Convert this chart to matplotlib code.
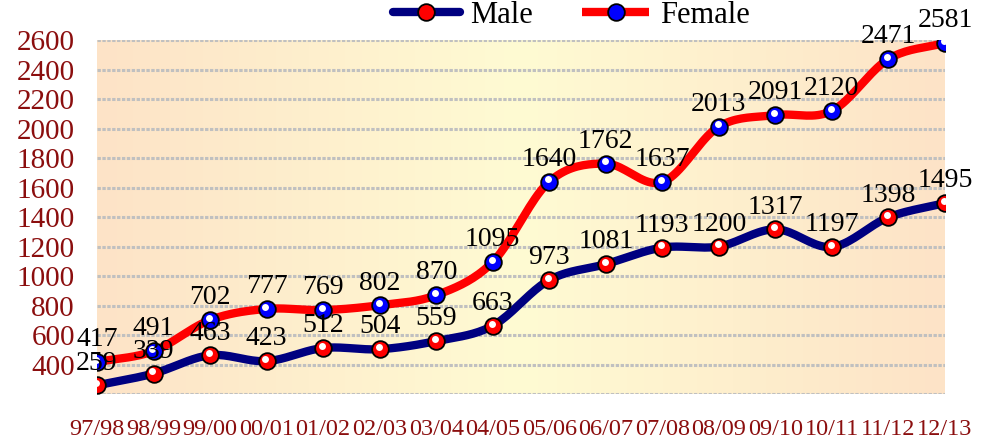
#Importing modules
import numpy as np
import matplotlib
matplotlib.use('Agg')
import matplotlib.pyplot as plt
import matplotlib.transforms as mtransforms
from matplotlib.lines import Line2D
from matplotlib.colors import LinearSegmentedColormap

#Defining plot params
plt.rcParams['font.family'] = ['Liberation Serif', 'DejaVu Serif']
fnt = 20
red_txt = '#8B0E0E'

#Chart data
years = ['97/98', '98/99', '99/00', '00/01', '01/02', '02/03', '03/04', '04/05',
         '05/06', '06/07', '07/08', '08/09', '09/10', '10/11', '11/12', '12/13']
male = [259, 339, 463, 423, 512, 504, 559, 663, 973, 1081, 1193, 1200, 1317, 1197, 1398, 1495]
female = [417, 491, 702, 777, 769, 802, 870, 1095, 1640, 1762, 1637, 2013, 2091, 2120, 2471, 2581]
yticks = [400, 600, 800, 1000, 1200, 1400, 1600, 1800, 2000, 2200, 2400, 2600]


def smooth(y, steps=20):
    #Catmull-Rom curve through the points, only used to draw the line
    y = np.asarray(y, dtype=float)
    p = np.concatenate([[2*y[0]-y[1]], y, [2*y[-1]-y[-2]]])
    xs, ys = [], []
    for i in range(len(y)-1):
        t = np.linspace(0, 1, steps, endpoint=False)
        p0, p1, p2, p3 = p[i], p[i+1], p[i+2], p[i+3]
        v = 0.5*((2*p1) + (-p0+p2)*t + (2*p0-5*p1+4*p2-p3)*t**2 + (-p0+3*p1-3*p2+p3)*t**3)
        xs.append(i+t)
        ys.append(v)
    xs.append([len(y)-1])
    ys.append([y[-1]])
    return np.concatenate(xs), np.concatenate(ys)


xpos = np.arange(len(years))

fig = plt.figure(figsize=(9.9, 4.4), dpi=100)
ax = fig.add_axes([0.098, 0.1045, 0.8565, 0.8045])
ax.set_xlim(0, len(years)-1)
ax.set_ylim(200, 2600)

#Background gradient: peach at the edges, pale yellow in the middle
cmap = LinearSegmentedColormap.from_list('bg', ['#FDE3C7', '#FFFBD3', '#FDE3C7'])
grad = np.linspace(0, 1, 256).reshape(1, -1)
ax.imshow(grad, cmap=cmap, aspect='auto', extent=[0, len(years)-1, 200, 2600], zorder=0)

for v in [200] + yticks:
    ax.axhline(v, color='#C0C0C0', lw=2.2, linestyle=(0, (1.1, 0.5)), dash_capstyle='butt', zorder=1)

for s in ax.spines.values():
    s.set_visible(False)

ax.set_yticks(yticks)
ax.set_yticklabels([str(v) for v in yticks], fontsize=fnt+1, color=red_txt)
ax.set_xticks(xpos)
ax.set_xticklabels(years, fontsize=17.5, color=red_txt)
ax.tick_params(axis='y', length=0, pad=16)
ax.tick_params(axis='x', length=0, pad=18)

hl = mtransforms.offset_copy(ax.transData, fig=fig, x=-0.8, y=1.6, units='points')

series = [(male, '#000080', '#FF0000', 'round'), (female, '#FF0000', '#0000FF', 'butt')]
for data, lc, mc, cap in series:
    sx, sy = smooth(data)
    ax.plot(sx, sy, color=lc, lw=6, solid_capstyle=cap, zorder=3)
    ax.plot(xpos, data, 'o', ms=12, mfc=mc, mec='black', mew=1.3, zorder=4)
    ax.plot(xpos, data, 'o', ms=5, mfc='white', mec='none', zorder=5, transform=hl)
    for i, v in enumerate(data):
        ax.annotate(str(v), (xpos[i], v), xytext=(0, 7), textcoords='offset points',
                    ha='center', va='bottom', fontsize=fnt, color='black', zorder=6,
                    annotation_clip=False)

handles = [Line2D([0], [0], color='#000080', lw=6, solid_capstyle='round', marker='o', ms=12,
                  mfc='#FF0000', mec='black', mew=1.3),
           Line2D([0], [0], color='#FF0000', lw=6, solid_capstyle='butt', marker='o', ms=12,
                  mfc='#0000FF', mec='black', mew=1.3)]
fig.legend(handles, ['Male', 'Female'], loc='center', bbox_to_anchor=(0.577, 0.965), ncol=2,
           frameon=False, fontsize=fnt+2, handlelength=2.2, columnspacing=1.6, handletextpad=0.35)

fig.savefig('out.png', dpi=100)
